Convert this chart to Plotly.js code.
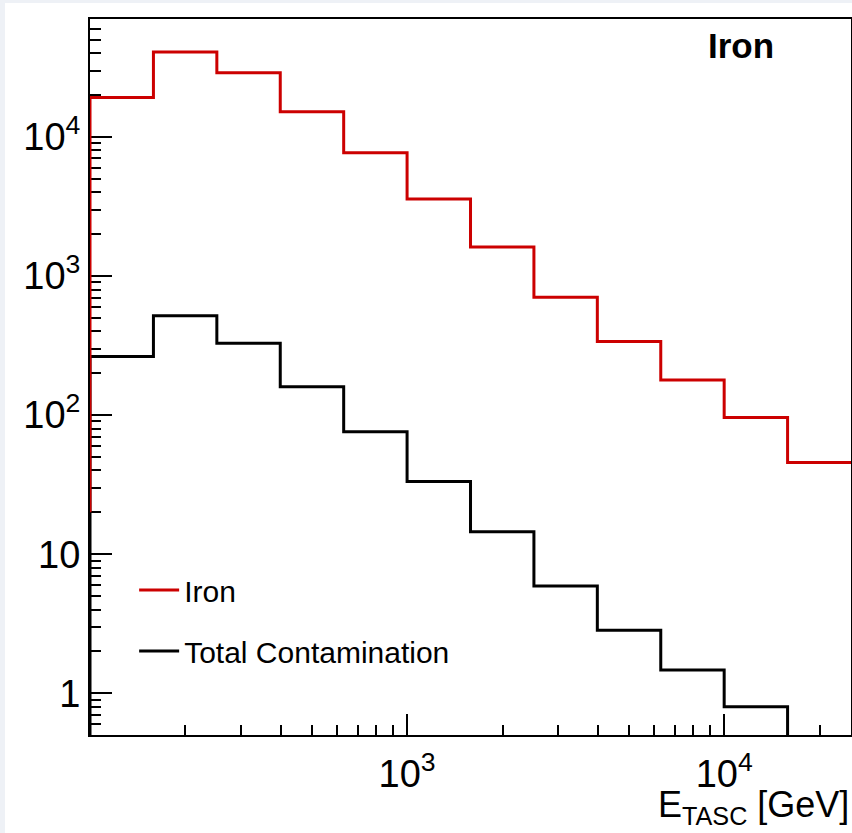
<!DOCTYPE html>
<html>
<head>
<meta charset="utf-8">
<script src="https://cdn.plot.ly/plotly-3.0.1.min.js"></script>
<style>
  html, body { margin: 0; padding: 0; background: #eef1f6; width: 852px; height: 833px; overflow: hidden; }
  #chart { position: absolute; left: 5px; top: 3px; width: 847px; height: 830px; background: #ffffff; }
</style>
</head>
<body>
<div id="chart"></div>
<script>
// Bin edges (GeV), 5 bins per decade
const binEdges = [100, 158.5, 251.2, 398.1, 631, 1000, 1585, 2512, 3981, 6310, 10000, 15849, 25119];
// Iron counts per bin
const ironCounts = [19200, 40800, 29000, 15200, 7700, 3580, 1620, 704, 338, 179, 96, 45.6];
// Total contamination counts per bin
const contamCounts = [264, 517, 329, 160, 76, 33.3, 14.5, 5.9, 2.84, 1.47, 0.80, 0.3];
// Histogram baselines where the drawn outline starts
const ironBase = 20;
const contamBase = 0.01;

const yTickVals = [1, 10, 100, 1000, 10000];
const yTickText = ['1', '10', '10<sup>2</sup>', '10<sup>3</sup>', '10<sup>4</sup>'];
const xTickVals = [1000, 10000];
const xTickText = ['10<sup>3</sup>', '10<sup>4</sup>'];

function stepXY(counts, base) {
  const x = [binEdges[0]], y = [base];
  for (let i = 0; i < counts.length; i++) { x.push(binEdges[i]); y.push(counts[i]); }
  x.push(binEdges[binEdges.length - 1]); y.push(counts[counts.length - 1]);
  return {x, y};
}

function minorVals(lo, hi) {
  const v = [];
  for (let d = lo; d <= hi; d++) for (let m = 2; m <= 9; m++) v.push(m * Math.pow(10, d));
  return v;
}

const c = stepXY(contamCounts, contamBase);
const fe = stepXY(ironCounts, ironBase);

const traces = [
  {x: c.x, y: c.y, mode: 'lines', line: {shape: 'hv', color: '#000000', width: 3},
   name: 'Total Contamination', legendgroup: 'b', legendrank: 2, hoverinfo: 'skip'},
  {x: fe.x, y: fe.y, mode: 'lines', line: {shape: 'hv', color: '#cc0000', width: 3},
   name: 'Iron', legendgroup: 'a', legendrank: 1, hoverinfo: 'skip'}
];

const font = 'Liberation Sans, Arial, Helvetica, sans-serif';

const layout = {
  width: 847, height: 830,
  margin: {l: 85, r: 1, t: 16, b: 98},
  paper_bgcolor: '#ffffff', plot_bgcolor: '#ffffff',
  showlegend: true,
  legend: {x: 0.058, y: 0.239, xanchor: 'left', yanchor: 'top', bgcolor: 'rgba(0,0,0,0)',
           font: {family: font, size: 30, color: '#000'}, itemwidth: 40, tracegroupgap: 19,
           traceorder: 'grouped'},
  xaxis: {type: 'log', range: [2, 4.4], showgrid: false, zeroline: false,
          showline: true, linecolor: '#000', linewidth: 2, mirror: true, layer: 'below traces',
          ticks: 'inside', ticklen: 21, tickwidth: 2, tickcolor: '#000',
          tickmode: 'array', tickvals: xTickVals, ticktext: xTickText,
          tickfont: {family: font, size: 38, color: '#000'}, ticklabelstandoff: 4,
          minor: {tickmode: 'array', tickvals: minorVals(2, 4), ticks: 'inside', ticklen: 10, tickwidth: 2, tickcolor: '#000', showgrid: false}},
  yaxis: {type: 'log', range: [-0.30, 4.848], showgrid: false, zeroline: false,
          showline: true, linecolor: '#000', linewidth: 2, mirror: true, layer: 'below traces',
          ticks: 'inside', ticklen: 22, tickwidth: 2, tickcolor: '#000',
          tickmode: 'array', tickvals: yTickVals, ticktext: yTickText,
          tickfont: {family: font, size: 38, color: '#000'}, ticklabelstandoff: 0,
          minor: {tickmode: 'array', tickvals: minorVals(-1, 4), ticks: 'inside', ticklen: 11, tickwidth: 2, tickcolor: '#000', showgrid: false}},
  annotations: [
    {text: '<b>Iron</b>', xref: 'paper', yref: 'paper', x: 0.901, y: 1, xanchor: 'right', yanchor: 'top',
     yshift: -5, showarrow: false, font: {family: font, size: 35, color: '#000'}},
    {text: 'E<sub>TASC</sub> [GeV]', xref: 'paper', yref: 'paper', x: 1, y: 0, xanchor: 'right', yanchor: 'top',
     xshift: 0, yshift: -47, showarrow: false, font: {family: font, size: 36, color: '#000'}}
  ]
};

Plotly.newPlot('chart', traces, layout, {displayModeBar: false, staticPlot: true});
</script>
</body>
</html>
